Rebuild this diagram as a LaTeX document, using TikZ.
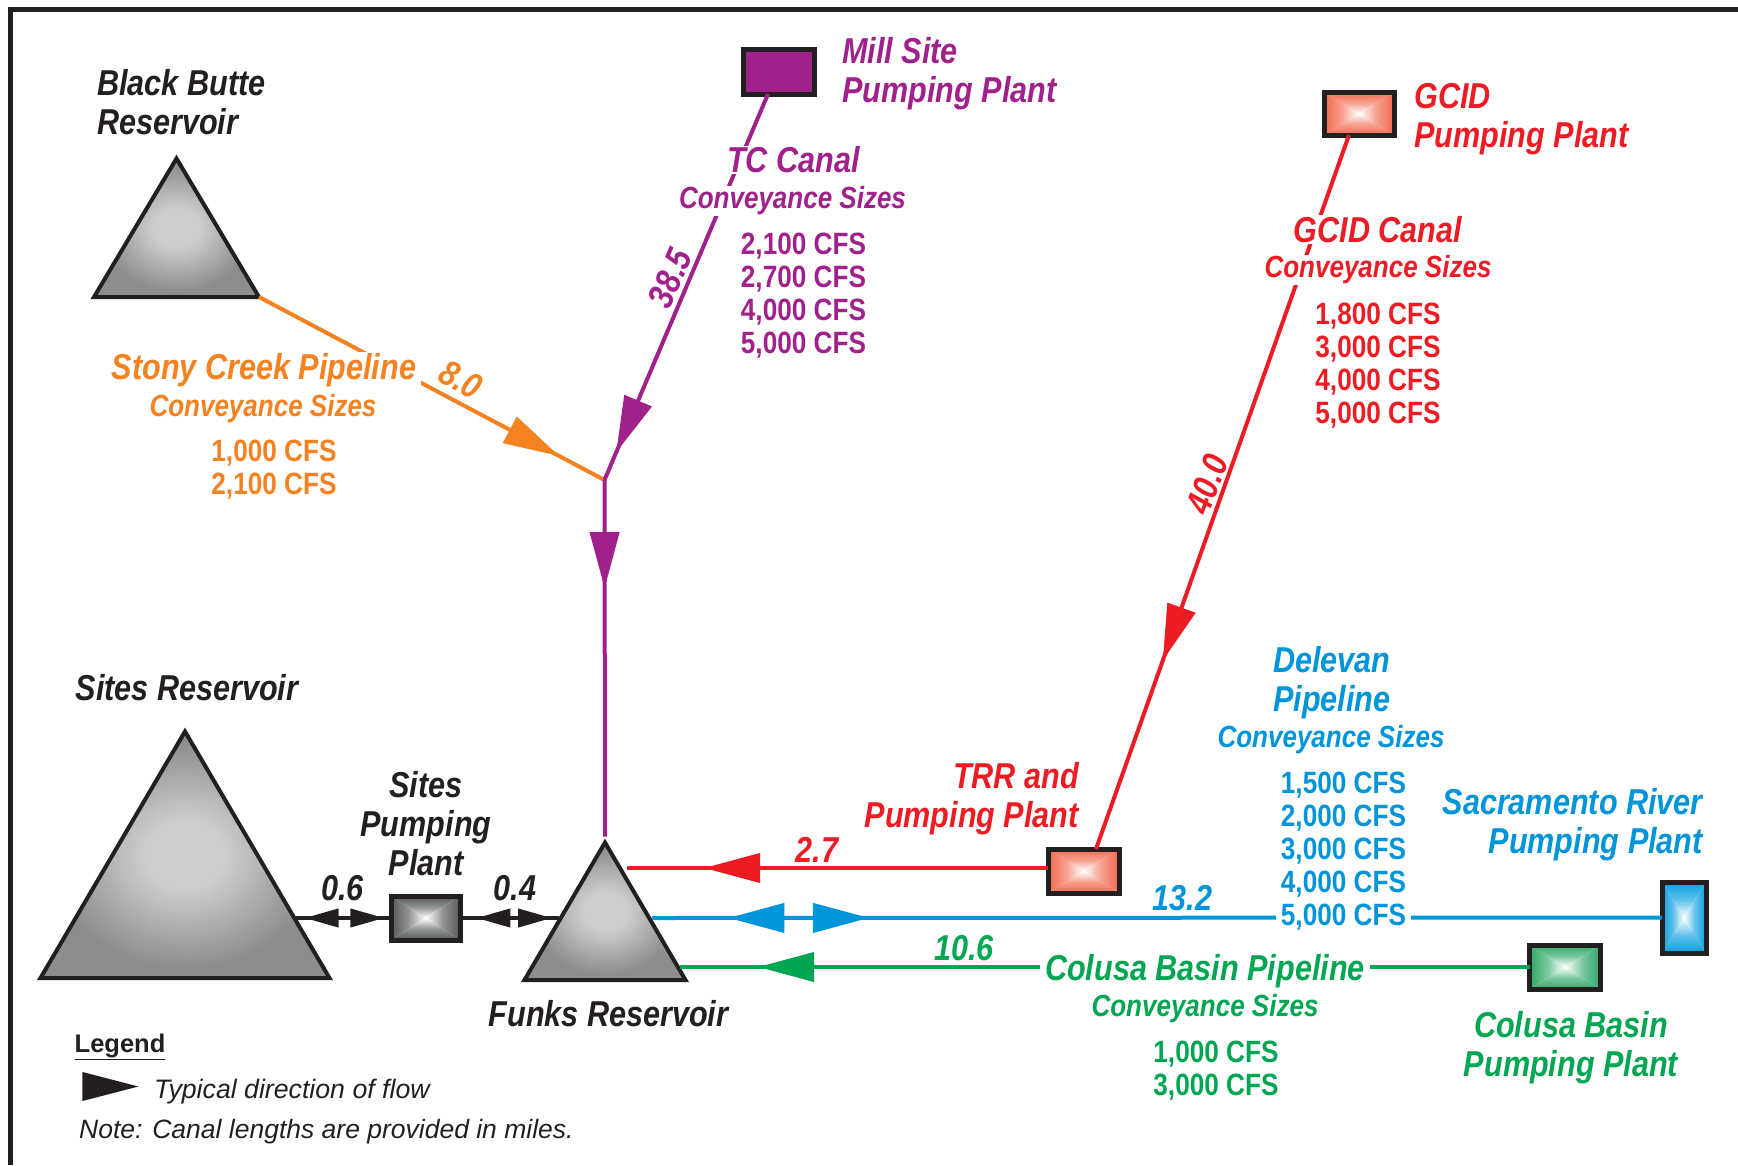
\documentclass[tikz,border=0pt]{standalone}
\usepackage{fontspec}
\usepackage{tikz}
\usepackage{xcolor}
\usetikzlibrary{arrows.meta, shapes.geometric, decorations.markings}

\setmainfont{Liberation Sans}
\newfontfamily\narrowfont{Liberation Sans}[FakeStretch=0.85]

\definecolor{inkblack}{HTML}{231F20}
\definecolor{tcpurple}{HTML}{A0218C}
\definecolor{stonyorange}{HTML}{F58220}
\definecolor{gcidred}{HTML}{ED1C24}
\definecolor{delevanblue}{HTML}{0095DA}
\definecolor{colusagreen}{HTML}{00A651}
\definecolor{shellgray}{HTML}{8B8D8E}
\definecolor{coregray}{HTML}{CDCDCD}
\definecolor{plantgray}{HTML}{55585A}
\definecolor{plantred}{HTML}{F26A4F}
\definecolor{plantblue}{HTML}{0A9FE0}
\definecolor{plantgreen}{HTML}{2FA866}

\pgfdeclareradialshading{pondglow}{\pgfpoint{0bp}{0bp}}{
    color(0bp)=(coregray); color(7bp)=(coregray);
    color(23bp)=(shellgray); color(50bp)=(shellgray)}

\tikzset{
    bigtip/.tip={Triangle[length=56pt,width=29pt]},
    smalltip/.tip={Triangle[length=34pt,width=18pt]},
    canal/.style={line width=4pt},
    flowat/.style={postaction={decorate},
        decoration={markings,mark=at position #1 with {\arrow{bigtip}}}},
    flowboth/.style n args={3}{postaction={decorate},
        decoration={markings,
            mark=at position #1 with {\arrowreversed{#3}},
            mark=at position #2 with {\arrow{#3}}}},
    reservoir/.style={isosceles triangle, isosceles triangle stretches,
        shape border rotate=90, draw=inkblack, line width=4pt,
        inner sep=0pt, outer sep=0pt, anchor=apex, shading=pondglow},
    plantbox/.style n args={3}{rectangle, draw=inkblack, line width=5pt,
        minimum width=#1, minimum height=#2, inner sep=0pt, outer sep=0pt,
        path picture={
            \foreach \ca/\cb/\sa/\sb/\opt in {
                north west/north east/north west/east/{top color=#3,bottom color=white,middle color=#3!65!white},
                south west/south east/west/south east/{bottom color=#3,top color=white,middle color=#3!65!white},
                north west/south west/north west/south/{left color=#3,right color=white,middle color=#3!65!white},
                north east/south east/north/south east/{right color=#3,left color=white,middle color=#3!65!white}}
            {
                \begin{scope}
                    \clip (path picture bounding box.\ca) -- (path picture bounding box.\cb)
                        -- (path picture bounding box.center) -- cycle;
                    \edef\shadeit{\noexpand\shade[\opt]}
                    \shadeit (path picture bounding box.\sa) rectangle (path picture bounding box.\sb);
                \end{scope}
            }
        }},
    lab/.style={font=\narrowfont\bfseries\itshape\fontsize{36}{39}\selectfont,
        inner sep=1pt, align=center},
    sublab/.style={font=\narrowfont\bfseries\itshape\fontsize{30.6}{33}\selectfont,
        inner sep=1pt, align=center},
    cfslab/.style={font=\narrowfont\bfseries\fontsize{30.8}{33}\selectfont,
        inner sep=1pt, align=center},
    halo/.style={fill=white, inner xsep=5pt, inner ysep=1pt},
}

\begin{document}
\begin{tikzpicture}[x=1pt,y=-1pt]
    \useasboundingbox (0,0) rectangle (1738,1165);

    % frame, open on the right and below
    \draw[inkblack,line width=4.5pt] (10.5,1165) -- (10.5,9.5) -- (1738,9.5);

    \node[reservoir,minimum height=138.5pt,minimum width=165pt] (bbutte) at (176.5,158.5) {};
    \node[reservoir,minimum height=246.5pt,minimum width=289pt] (sites) at (185,731.5) {};
    \node[reservoir,minimum height=137.5pt,minimum width=161pt] (funks) at (605,842.5) {};

    \node[rectangle,draw=inkblack,line width=5pt,fill=tcpurple,minimum width=71pt,minimum height=45pt,inner sep=0pt,outer sep=0pt] (millbox) at (779,71.5) {};
    \node[plantbox={70pt}{43pt}{plantred}] (gcidbox) at (1359,113.5) {};
    \node[plantbox={71pt}{44pt}{plantred}] (trrbox) at (1083.5,871) {};
    \node[plantbox={69pt}{44pt}{plantgray}] (sitesbox) at (425.5,918) {};
    \node[plantbox={44pt}{71pt}{plantblue}] (sacbox) at (1684,917.5) {};
    \node[plantbox={71pt}{44pt}{plantgreen}] (colusabox) at (1565,967) {};

    \coordinate (tcjoin) at (604.5,480);
    \coordinate (sitesE) at (296,918);
    \coordinate (funksW) at (559,918);
    \coordinate (funksR) at (627,868);
    \coordinate (funksB) at (652,918);
    \coordinate (funksG) at (680,967);

    \draw[canal,stonyorange,flowat=0.869] (bbutte.right corner) -- (tcjoin);
    \draw[canal,tcpurple,flowat=0.928] ([xshift=-11pt]millbox.south) -- (tcjoin);
    \draw[canal,tcpurple,flowat=0.3035] (tcjoin) -- ([yshift=6pt]funks.apex);
    \draw[canal,gcidred,flowat=0.736] ([xshift=-10pt]gcidbox.south) -- ([xshift=12.5pt]trrbox.north);
    \draw[canal,gcidred,flowat=0.817] (trrbox.west |- funksR) -- (funksR);
    \draw[canal,delevanblue,flowboth={0.0757}{0.2148}{bigtip}] (funksB) -- (sacbox.west);
    \draw[canal,colusagreen,flowat=0.908] (colusabox.west) -- (funksG);
    \draw[canal,inkblack,flowboth={0.09}{0.93}{smalltip}] (sitesE) -- (sitesbox.west);
    \draw[canal,inkblack,flowboth={0.165}{0.93}{smalltip}] (sitesbox.east) -- (funksW);

    \node[lab,align=left,anchor=west,text=inkblack] (bbuttelab) at (96,102) {Black Butte\\Reservoir};
    \node[lab,text=inkblack] (siteslab) at (187,688) {Sites Reservoir};
    \node[lab,text=inkblack] (sitesboxlab) at (426,824) {Sites\\Pumping\\Plant};
    \node[lab,text=inkblack] (funkslab) at (608.5,1014) {Funks Reservoir};
    \node[lab,text=inkblack] (dist06) at (342.5,888) {0.6};
    \node[lab,text=inkblack] (dist04) at (515,888) {0.4};

    \node[lab,align=left,anchor=west,text=tcpurple] (milllab) at (841,74) {Mill Site\\Pumping Plant};
    \node[lab,halo,text=tcpurple] (tclab) at (793.5,160) {TC Canal};
    \node[sublab,halo,text=tcpurple] (tcsub) at (792.5,201) {Conveyance Sizes};
    \node[cfslab,text=tcpurple] (tccfs) at (803.5,296) {2,100 CFS\\2,700 CFS\\4,000 CFS\\5,000 CFS};
    \node[lab,rotate=67,text=tcpurple] (dist385) at (670,278) {38.5};

    \node[lab,halo,text=stonyorange] (stonylab) at (264,370) {Stony Creek Pipeline};
    \node[sublab,text=stonyorange] (stonysub) at (263,409) {Conveyance Sizes};
    \node[cfslab,text=stonyorange] (stonycfs) at (274,470) {1,000 CFS\\2,100 CFS};
    \node[lab,rotate=-28,text=stonyorange] (dist80) at (461,380) {8.0};

    \node[lab,align=left,anchor=west,text=gcidred] (gcidlab) at (1413,119.5) {GCID\\Pumping Plant};
    \node[lab,halo,text=gcidred] (canallab) at (1378,229.5) {GCID Canal};
    \node[sublab,halo,text=gcidred] (canalsub) at (1378,270) {Conveyance Sizes};
    \node[cfslab,text=gcidred] (canalcfs) at (1378,366) {1,800 CFS\\3,000 CFS\\4,000 CFS\\5,000 CFS};
    \node[lab,rotate=70,text=gcidred] (dist400) at (1207,484) {40.0};
    \node[lab,align=right,anchor=east,text=gcidred] (trrlab) at (1080,799) {TRR and\\Pumping Plant};
    \node[lab,text=gcidred] (dist27) at (817,850) {2.7};

    \node[lab,text=delevanblue] (delevanlab) at (1332,683) {Delevan\\Pipeline};
    \node[sublab,text=delevanblue] (delevansub) at (1331,740) {Conveyance Sizes};
    \node[cfslab,halo,text=delevanblue] (delevancfs) at (1343.5,851.5) {1,500 CFS\\2,000 CFS\\3,000 CFS\\4,000 CFS\\5,000 CFS};
    \node[lab,align=right,anchor=east,text=delevanblue] (saclab) at (1704,825) {Sacramento River\\Pumping Plant};
    \node[lab,text=delevanblue] (dist132) at (1182.5,898) {13.2};

    \node[lab,halo,text=colusagreen] (colusalab) at (1205,971) {Colusa Basin Pipeline};
    \node[sublab,text=colusagreen] (colusasub) at (1205,1009) {Conveyance Sizes};
    \node[cfslab,text=colusagreen] (colusacfs) at (1216,1071) {1,000 CFS\\3,000 CFS};
    \node[lab,text=colusagreen] (colusaplab) at (1571,1048) {Colusa Basin\\Pumping Plant};
    \node[lab,text=colusagreen] (dist106) at (964,948) {10.6};

    % legend
    \node[font=\bfseries\fontsize{25.5}{30}\selectfont,text=inkblack,anchor=west,inner sep=0pt] (legendlab) at (74.5,1047) {\underline{Legend}};
    \node[isosceles triangle,isosceles triangle stretches,fill=inkblack,minimum height=56pt,minimum width=29pt,inner sep=0pt,anchor=apex] (legendtip) at (139,1086.5) {};
    \node[font=\itshape\fontsize{26.7}{30}\selectfont,text=inkblack,anchor=west,inner sep=0pt] (legendflow) at (154,1092) {Typical direction of flow};
    \node[font=\itshape\fontsize{26.5}{30}\selectfont,text=inkblack,anchor=west,inner sep=0pt] (legendnote) at (79,1132) {Note: Canal lengths are provided in miles.};
\end{tikzpicture}
\end{document}
